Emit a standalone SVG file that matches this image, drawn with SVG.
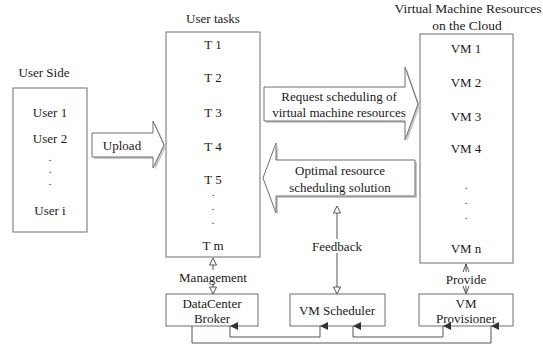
<svg xmlns="http://www.w3.org/2000/svg" width="543" height="350" viewBox="0 0 543 350" font-family="'Liberation Serif', 'Times New Roman', serif">
<style>
text{font-family:"Liberation Serif","Times New Roman",serif;font-size:13px;fill:#1a1a1a;text-anchor:middle;dominant-baseline:central}
text.dot{font-size:11px}
.box{fill:#fff;stroke:#6e6e6e;stroke-width:1}
.arr{fill:#fff;stroke:#6e6e6e;stroke-width:1}
.sh{fill:#c8c8c8;stroke:none}
.ln{fill:none;stroke:#555;stroke-width:1}
.tri{fill:#fff;stroke:#555;stroke-width:1}
.chev{fill:none;stroke:#555;stroke-width:1}
.lbl{fill:#fff;stroke:none}
</style>
<defs>
<marker id="up" viewBox="0 0 8 8" refX="4" refY="0" markerWidth="8" markerHeight="8" markerUnits="userSpaceOnUse" orient="auto-start-reverse">
<path d="M0,8 L4,0 L8,8 Z" fill="#333"/>
</marker>
</defs>

<g id="user-side">
<text x="44" y="72">User Side</text>
<rect class="box" x="13" y="88" width="74" height="144"/>
<text x="50" y="112">User 1</text>
<text x="50" y="138">User 2</text>
<text class="dot" x="50" y="157">.</text>
<text class="dot" x="50" y="169">.</text>
<text class="dot" x="50" y="181">.</text>
<text x="50" y="210">User i</text>
</g>

<g id="user-tasks">
<text x="213" y="18">User tasks</text>
<rect class="box" x="166" y="32" width="94" height="225"/>
<text x="213" y="44">T 1</text>
<text x="213" y="77">T 2</text>
<text x="213" y="112">T 3</text>
<text x="213" y="146">T 4</text>
<text x="213" y="179">T 5</text>
<text class="dot" x="213" y="192">.</text>
<text class="dot" x="213" y="206">.</text>
<text class="dot" x="213" y="220">.</text>
<text x="213" y="245">T m</text>
</g>

<g id="vm-resources">
<text x="468" y="8" style="font-size:13.5px">Virtual Machine Resources</text>
<text x="467" y="25" style="font-size:13.5px">on the Cloud</text>
<rect class="box" x="420" y="34" width="93" height="229"/>
<text x="466" y="48">VM 1</text>
<text x="466" y="82">VM 2</text>
<text x="466" y="116">VM 3</text>
<text x="466" y="148">VM 4</text>
<text class="dot" x="466" y="185">.</text>
<text class="dot" x="466" y="200">.</text>
<text class="dot" x="466" y="215">.</text>
<text x="466" y="248">VM n</text>
</g>

<g id="upload">
<path class="sh" d="M94,135 L155,135 L155,123 L166,147 L155,170 L155,159 L94,159 Z"/>
<path class="arr" d="M92,133 L153,133 L153,121 L164,145 L153,168 L153,157 L92,157 Z"/>
<text x="122" y="145">Upload</text>
</g>

<g id="request">
<path class="sh" d="M266,89 L407,89 L407,69 L420,106 L407,142 L407,123 L266,123 Z"/>
<path class="arr" d="M264,87 L405,87 L405,67 L418,104 L405,140 L405,121 L264,121 Z"/>
<text x="339" y="96">Request scheduling of</text>
<text x="339" y="112">virtual machine resources</text>
</g>

<g id="optimal">
<path class="sh" d="M417,162 L278,162 L278,145 L265,180 L278,215 L278,198 L417,198 Z"/>
<path class="arr" d="M415,160 L276,160 L276,143 L263,178 L276,213 L276,196 L415,196 Z"/>
<text x="340" y="170">Optimal resource</text>
<text x="340" y="187">scheduling solution</text>
</g>

<g id="datacenter-broker">
<rect class="box" x="166" y="294" width="92" height="32"/>
<text x="212" y="303">DataCenter</text>
<text x="212" y="318">Broker</text>
</g>

<g id="vm-scheduler">
<rect class="box" x="290" y="294" width="95" height="32"/>
<text x="337" y="310">VM Scheduler</text>
</g>

<g id="vm-provisioner">
<rect class="box" x="419" y="294" width="94" height="32"/>
<text x="466" y="303">VM</text>
<text x="466" y="318">Provisioner</text>
</g>

<g id="connectors">
<!-- Management -->
<line class="ln" x1="213" y1="264" x2="213" y2="287"/>
<path class="tri" d="M213,258 L216.5,265 L209.5,265 Z"/>
<path class="tri" d="M213,294 L216.5,287 L209.5,287 Z"/>
<rect class="lbl" x="178" y="270" width="70" height="14"/>
<text x="213" y="277">Management</text>
<!-- Feedback -->
<line class="ln" x1="337" y1="213" x2="337" y2="287"/>
<path class="tri" d="M337,206 L340.5,213 L333.5,213 Z"/>
<path class="tri" d="M337,294 L340.5,287 L333.5,287 Z"/>
<rect class="lbl" x="311" y="239" width="52" height="14"/>
<text x="337" y="246">Feedback</text>
<!-- Provide -->
<line class="ln" x1="466" y1="264" x2="466" y2="293"/>
<path class="chev" d="M463,272 L466,264 L469,272"/>
<path class="chev" d="M463,286 L466,294 L469,286"/>
<rect class="lbl" x="443" y="272" width="46" height="14"/>
<text x="466" y="279">Provide</text>
<!-- bottom links -->
<path class="ln" d="M192,326 L192,343 L491,343 L491,326" marker-end="url(#up)"/>
<path class="ln" d="M230,326 L230,337 L320,337 L320,326" marker-start="url(#up)" marker-end="url(#up)"/>
<path class="ln" d="M353,326 L353,337 L443,337 L443,326" marker-start="url(#up)" marker-end="url(#up)"/>
</g>
</svg>
